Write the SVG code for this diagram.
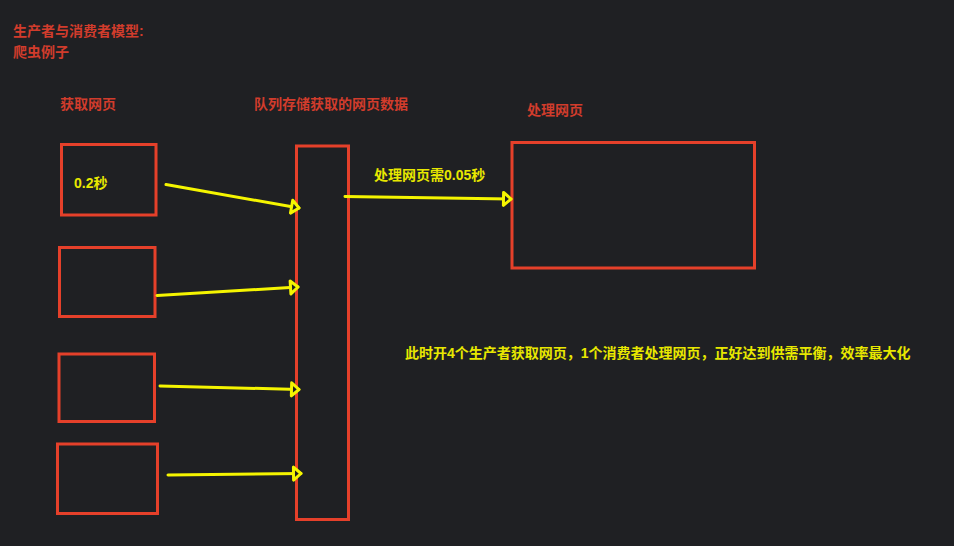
<svg xmlns="http://www.w3.org/2000/svg" width="954" height="546" viewBox="0 0 954 546">
<defs>
<style>
.bg{fill:#1f2023}
.box{fill:none;stroke:#e5402a;stroke-width:3}
.arrow{fill:none;stroke:#f5f500;stroke-width:3;stroke-linecap:round}
.t{font-family:"Liberation Sans","Noto Sans CJK SC",sans-serif;font-size:14px;font-weight:bold}
.red{fill:#d13c2c}
.yel{fill:#e8e800}
</style>
<marker id="ah" markerUnits="userSpaceOnUse" markerWidth="18" markerHeight="18" viewBox="-11 -9 14 18" refX="0" refY="0" orient="auto">
<path d="M-7.5,-6.5 L0,0 L-7.5,6.5 Z" fill="#1f2023" stroke="#f5f500" stroke-width="3" stroke-linejoin="round"/>
</marker>
</defs>
<rect class="bg" x="0" y="0" width="954" height="546"/>
<g id="title">
<text class="t red" x="13" y="36">生产者与消费者模型:</text>
<text class="t red" x="13" y="57">爬虫例子</text>
</g>
<g id="labels">
<text class="t red" x="60" y="109">获取网页</text>
<text class="t red" x="254" y="109">队列存储获取的网页数据</text>
<text class="t red" x="527" y="115">处理网页</text>
<text class="t yel" x="405" y="358">此时开4个生产者获取网页，1个消费者处理网页，正好达到供需平衡，效率最大化</text>
</g>
<g id="producer1">
<rect class="box" x="61.5" y="144.5" width="94.5" height="70.5"/>
<text class="t yel" x="74" y="188">0.2秒</text>
</g>
<g id="producer2">
<rect class="box" x="59.5" y="247.5" width="95.5" height="69"/>
</g>
<g id="producer3">
<rect class="box" x="59" y="354" width="95.5" height="67.5"/>
</g>
<g id="producer4">
<rect class="box" x="57.5" y="444" width="100" height="69.5"/>
</g>
<g id="queue">
<rect class="box" x="296.5" y="146" width="52" height="373.5"/>
</g>
<g id="consumer">
<rect class="box" x="512" y="142.5" width="242.5" height="125.5"/>
</g>
<g id="connectors">
<path class="arrow" d="M166,184.5 L299,208" marker-end="url(#ah)"/>
<path class="arrow" d="M157,295.5 L298,287" marker-end="url(#ah)"/>
<path class="arrow" d="M160,386 L299,389.5" marker-end="url(#ah)"/>
<path class="arrow" d="M168,475 L301,473.5" marker-end="url(#ah)"/>
<path class="arrow" d="M345,196.5 L511,199" marker-end="url(#ah)"/>
<text class="t yel" x="374" y="180">处理网页需0.05秒</text>
</g>
</svg>
